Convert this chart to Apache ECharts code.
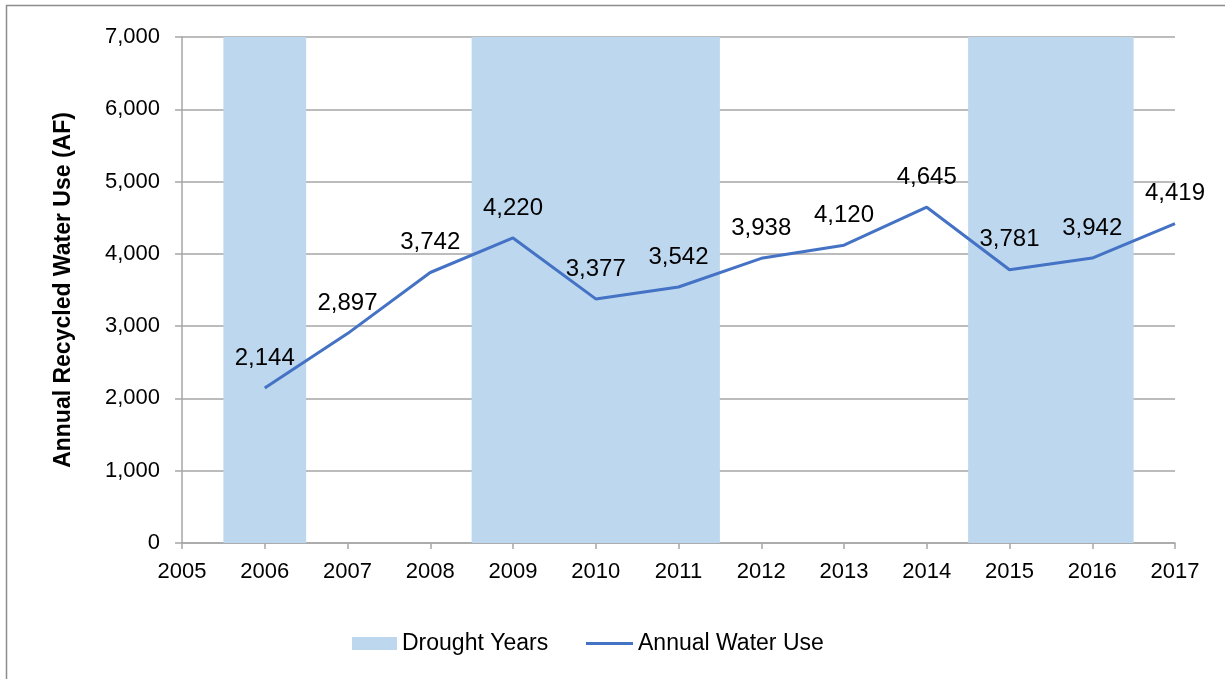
<!DOCTYPE html>
<html>
<head>
<meta charset="utf-8">
<script src="https://cdn.jsdelivr.net/npm/echarts@6/dist/echarts.min.js"></script>
<style>
  html, body { margin: 0; padding: 0; background: #fff; }
  #chart { width: 1225px; height: 679px; }
</style>
</head>
<body>
<div id="chart"></div>
<script>
// Annual recycled water use (acre-feet) by year
const years = [2006, 2007, 2008, 2009, 2010, 2011, 2012, 2013, 2014, 2015, 2016, 2017];
const waterUse = [2144, 2897, 3742, 4220, 3377, 3542, 3938, 4120, 4645, 3781, 3942, 4419];
// Years classed as drought years (shaded as full-height bands)
const droughtYears = [2006, 2009, 2010, 2011, 2015, 2016];
const yTicks = [0, 1000, 2000, 3000, 4000, 5000, 6000, 7000];
const xTicks = [2005, 2006, 2007, 2008, 2009, 2010, 2011, 2012, 2013, 2014, 2015, 2016, 2017];

// Merge consecutive drought years into continuous bands, each spanning its year +/- 0.5
const bands = [];
droughtYears.forEach(function (y) {
  const last = bands[bands.length - 1];
  if (last && last[1] === y - 0.5) last[1] = y + 0.5;
  else bands.push([y - 0.5, y + 0.5]);
});

const font = 'Liberation Sans, Arial, sans-serif';
const gridGray = '#a6a6a6';
const textColor = '#000000';
const bandColor = '#bdd7ee';
const lineColor = '#4472c4';
const points = years.map(function (y, i) { return [y, waterUse[i]]; });

const legendText = { fontFamily: font, fontSize: 23, color: textColor };

const chart = echarts.init(document.getElementById('chart'));
chart.setOption({
  animation: false,
  backgroundColor: '#fff',
  graphic: [{
    type: 'rect',
    shape: { x: 6.5, y: 5.5, width: 1400, height: 800 },
    style: { fill: 'none', stroke: '#8c8c8c', lineWidth: 1.5 },
    silent: true,
    z: -10
  }],
  grid: { left: 182, right: 50, top: 37, bottom: 136 },
  legend: [
    {
      left: 347,
      top: 627,
      itemWidth: 45,
      itemHeight: 13,
      textStyle: legendText,
      data: [{ name: 'Drought Years', icon: 'rect', itemStyle: { color: bandColor } }]
    },
    {
      left: 581,
      top: 627,
      itemWidth: 47,
      itemHeight: 3,
      textStyle: legendText,
      data: [{ name: 'Annual Water Use', icon: 'rect', itemStyle: { color: lineColor } }]
    }
  ],
  xAxis: {
    type: 'value',
    min: xTicks[0],
    max: xTicks[xTicks.length - 1],
    interval: 1,
    splitLine: { show: false },
    axisLine: { lineStyle: { color: gridGray, width: 1.5 } },
    axisTick: { show: true, length: 6, lineStyle: { color: gridGray, width: 1.5 } },
    axisLabel: {
      fontFamily: font, fontSize: 22, color: textColor, margin: 18,
      formatter: function (v) { return String(v); }
    }
  },
  yAxis: {
    type: 'value',
    min: yTicks[0],
    max: yTicks[yTicks.length - 1],
    interval: 1000,
    name: 'Annual Recycled Water Use (AF)',
    nameLocation: 'middle',
    nameGap: 107,
    nameTextStyle: { fontFamily: font, fontSize: 23, fontWeight: 'bold', color: textColor },
    axisLine: { show: true, lineStyle: { color: gridGray, width: 1.5 } },
    axisTick: { show: true, length: 7, lineStyle: { color: gridGray, width: 1.5 } },
    splitLine: { show: true, lineStyle: { color: gridGray, width: 1.5 } },
    axisLabel: {
      fontFamily: font, fontSize: 22, color: textColor, margin: 22,
      formatter: function (v) { return v.toLocaleString('en-US'); }
    }
  },
  series: [
    {
      name: 'Drought Years',
      type: 'line',
      data: [],
      color: bandColor,
      silent: true,
      markArea: {
        silent: true,
        itemStyle: { color: bandColor, opacity: 1 },
        data: bands.map(function (b) {
          return [{ xAxis: b[0], yAxis: yTicks[0] }, { xAxis: b[1], yAxis: yTicks[yTicks.length - 1] }];
        })
      }
    },
    {
      name: 'Annual Water Use',
      type: 'line',
      data: points,
      color: lineColor,
      symbol: 'none',
      lineStyle: { color: lineColor, width: 3 },
      z: 5
    },
    {
      // value labels placed above each yearly point
      name: 'Value labels',
      type: 'scatter',
      data: points,
      symbolSize: 0,
      silent: true,
      z: 6,
      itemStyle: { opacity: 1 },
      label: {
        show: true,
        position: 'top',
        distance: 18,
        fontFamily: font,
        fontSize: 24,
        color: textColor,
        opacity: 1,
        formatter: function (p) { return p.value[1].toLocaleString('en-US'); }
      }
    }
  ]
});
</script>
</body>
</html>
